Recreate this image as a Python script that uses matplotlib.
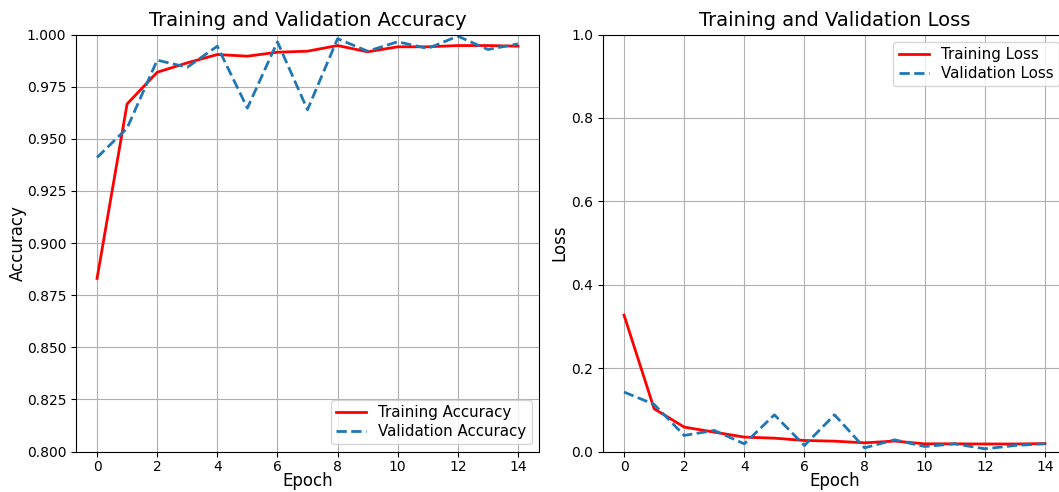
import matplotlib
matplotlib.use("Agg")
import matplotlib.pyplot as plt

epochs = list(range(15))
train_acc = [0.883, 0.9667, 0.9819, 0.9864, 0.9904, 0.9896, 0.9915, 0.992, 0.9947,
             0.9917, 0.9941, 0.9941, 0.9947, 0.9947, 0.9944]
val_acc = [0.941, 0.9551, 0.9877, 0.9843, 0.9944, 0.9647, 0.9965, 0.9639, 0.998,
           0.992, 0.9965, 0.9933, 0.9992, 0.9928, 0.9955]
train_loss = [0.327, 0.1026, 0.0585, 0.0465, 0.0345, 0.032, 0.0264, 0.0248, 0.0208,
              0.025, 0.0184, 0.0184, 0.018, 0.018, 0.019]
val_loss = [0.1426, 0.113, 0.0385, 0.0505, 0.0184, 0.088, 0.0144, 0.088, 0.0088,
            0.028, 0.012, 0.0184, 0.0064, 0.0144, 0.0184]

W, H = 1059, 492
fig = plt.figure(figsize=(W / 100, H / 100), dpi=100)
bottom = (H - 451.5) / H
height = 417 / H
ax1 = fig.add_axes([76 / W, bottom, 463 / W, height])
ax2 = fig.add_axes([603 / W, bottom, 463 / W, height])

leg_kw = dict(fontsize=10.8, labelspacing=0.25, borderpad=0.35, handlelength=2.0)

for ax in (ax1, ax2):
    ax.tick_params(axis='x', pad=2.5)

ax1.plot(epochs, train_acc, color='red', lw=2, label='Training Accuracy')
ax1.plot(epochs, val_acc, color='#1f77b4', lw=2, ls='--', label='Validation Accuracy')
ax1.set_ylim(0.8, 1.0)
ax1.set_title('Training and Validation Accuracy', fontsize=14)
ax1.set_xlabel('Epoch', fontsize=12, labelpad=-1)
ax1.set_ylabel('Accuracy', fontsize=12, labelpad=0)
ax1.set_xticks(range(0, 15, 2))
ax1.grid(True)
ax1.legend(loc='lower right', **leg_kw)

ax2.plot(epochs, train_loss, color='red', lw=2, label='Training Loss')
ax2.plot(epochs, val_loss, color='#1f77b4', lw=2, ls='--', label='Validation Loss')
ax2.set_ylim(0, 1.0)
ax2.set_title('Training and Validation Loss', fontsize=14)
ax2.set_xlabel('Epoch', fontsize=12, labelpad=-1)
ax2.set_ylabel('Loss', fontsize=12, labelpad=2)
ax2.set_xticks(range(0, 15, 2))
ax2.grid(True)
ax2.legend(loc='upper right', **leg_kw)

fig.savefig('out.png', dpi=100)
